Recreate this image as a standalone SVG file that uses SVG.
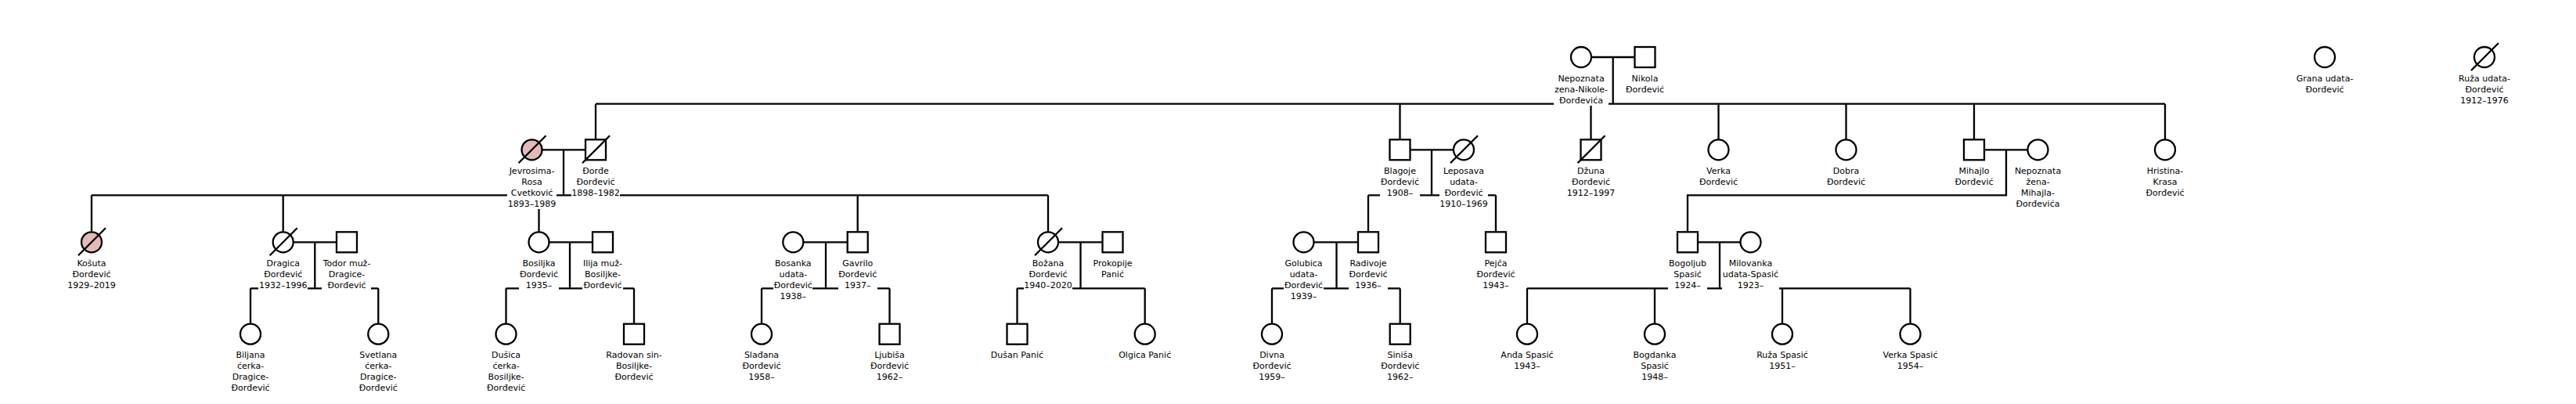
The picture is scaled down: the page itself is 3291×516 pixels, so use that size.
<svg xmlns="http://www.w3.org/2000/svg" xmlns:xlink="http://www.w3.org/1999/xlink" width="3291" height="516" viewBox="0 0 3291 516">
<style>
.ln{fill:none;stroke:#000;stroke-width:2.3}
.sh{fill:#fff;stroke:#000;stroke-width:2.3}
.pk{fill:#e6b9b9}
.dec{stroke:#000;stroke-width:2.3}
.lbl{font-family:"DejaVu Sans",sans-serif;font-size:11px;text-anchor:middle;fill:#000}
.bg{filter:url(#bg)}
</style>
<defs>
<filter id="bg" x="0" y="0" width="1" height="1"><feFlood flood-color="#fff"/></filter>
</defs>
<rect width="3291" height="516" fill="#fff"/>
<g id="connectors">
<path class="ln" d="M2033 73H2088.5M2060.7 73V132.7"/>
<path class="ln" d="M761 132.7H2766M761 132.7V178.3M1788.5 132.7V178.3M2032.5 132.7V178.3M2195.5 132.7V178.3M2358.5 132.7V178.3M2522 132.7V178.3M2766 132.7V178.3"/>
<path class="ln" d="M692.5 191.3H748M720 191.3V249.3M117 249.3H1339M117 249.3V296.3M361.7 249.3V296.3M688.5 249.3V296.3M1095.7 249.3V296.3M1339 249.3V296.3"/>
<path class="ln" d="M1801.5 191.3H1857M1829 191.3V249.3M1748 249.3H1911M1748 249.3V296.3M1911 249.3V296.3"/>
<path class="ln" d="M2535 191.3H2590.5M2563 191.3V249.3H2156V296.3"/>
<path class="ln" d="M374.7 309.3H430M402.3 309.3V368.3M320 368.3H483.3M320 368.3V413.7M483.3 368.3V413.7"/>
<path class="ln" d="M701.5 309.3H757M728 309.3V368.3M646.5 368.3H810M646.5 368.3V413.7M810 368.3V413.7"/>
<path class="ln" d="M1026.3 309.3H1082.7M1055 309.3V368.3M973 368.3H1136.5M973 368.3V413.7M1136.5 368.3V413.7"/>
<path class="ln" d="M1352 309.3H1408.5M1380.5 309.3V368.3M1299.5 368.3H1462.7M1299.5 368.3V413.7M1462.7 368.3V413.7"/>
<path class="ln" d="M1678.5 309.3H1735M1707.5 309.3V368.3M1625 368.3H1788.7M1625 368.3V413.7M1788.7 368.3V413.7"/>
<path class="ln" d="M2169 309.3H2223.5M2197 309.3V368.3M1951 368.3H2440.5M1951 368.3V413.7M2114 368.3V413.7M2277 368.3V413.7M2440.5 368.3V413.7"/>
</g>
<g id="n-nepoznata-nikole"><circle class="sh" cx="2020" cy="73" r="13"/><use class="bg" href="#t1" xlink:href="#t1"/><text id="t1" class="lbl" x="2020" y="103.5"><tspan x="2020">Nepoznata</tspan><tspan x="2020" dy="14">zena-Nikole-</tspan><tspan x="2020" dy="14">Đorđevića</tspan></text></g>
<g id="n-nikola"><rect class="sh" x="2088.5" y="60" width="26" height="26"/><use class="bg" href="#t2" xlink:href="#t2"/><text id="t2" class="lbl" x="2101.5" y="103.5"><tspan x="2101.5">Nikola</tspan><tspan x="2101.5" dy="14">Đorđević</tspan></text></g>
<g id="n-grana"><circle class="sh" cx="2970" cy="73" r="13"/><text class="lbl" x="2970" y="103.5"><tspan x="2970">Grana udata-</tspan><tspan x="2970" dy="14">Đorđević</tspan></text></g>
<g id="n-ruza-udata"><circle class="sh" cx="3174" cy="73" r="13"/><line class="dec" x1="3157" y1="90" x2="3192" y2="55"/><text class="lbl" x="3174" y="103.5"><tspan x="3174">Ruža udata-</tspan><tspan x="3174" dy="14">Đorđević</tspan><tspan x="3174" dy="14">1912–1976</tspan></text></g>

<g id="n-jevrosima"><circle class="sh pk" cx="679.5" cy="191.3" r="13"/><line class="dec" x1="662.5" y1="208.3" x2="697.5" y2="173.3"/><use class="bg" href="#t3" xlink:href="#t3"/><text id="t3" class="lbl" x="679.5" y="221.8"><tspan x="679.5">Jevrosima-</tspan><tspan x="679.5" dy="14">Rosa</tspan><tspan x="679.5" dy="14">Cvetković</tspan><tspan x="679.5" dy="14">1893–1989</tspan></text></g>
<g id="n-djordje"><rect class="sh" x="748" y="178.3" width="26" height="26"/><line class="dec" x1="744" y1="208.3" x2="779" y2="173.3"/><use class="bg" href="#t4" xlink:href="#t4"/><text id="t4" class="lbl" x="761" y="221.8"><tspan x="761">Đorđe</tspan><tspan x="761" dy="14">Đorđević</tspan><tspan x="761" dy="14">1898–1982</tspan></text></g>
<g id="n-blagoje"><rect class="sh" x="1775.5" y="178.3" width="26" height="26"/><use class="bg" href="#t5" xlink:href="#t5"/><text id="t5" class="lbl" x="1788.5" y="221.8"><tspan x="1788.5">Blagoje</tspan><tspan x="1788.5" dy="14">Đorđević</tspan><tspan x="1788.5" dy="14">1908–</tspan></text></g>
<g id="n-leposava"><circle class="sh" cx="1870" cy="191.3" r="13"/><line class="dec" x1="1853" y1="208.3" x2="1888" y2="173.3"/><use class="bg" href="#t6" xlink:href="#t6"/><text id="t6" class="lbl" x="1870" y="221.8"><tspan x="1870">Leposava</tspan><tspan x="1870" dy="14">udata-</tspan><tspan x="1870" dy="14">Đorđević</tspan><tspan x="1870" dy="14">1910–1969</tspan></text></g>
<g id="n-dzuna"><rect class="sh" x="2019.5" y="178.3" width="26" height="26"/><line class="dec" x1="2015.5" y1="208.3" x2="2050.5" y2="173.3"/><text class="lbl" x="2032.5" y="221.8"><tspan x="2032.5">Džuna</tspan><tspan x="2032.5" dy="14">Đorđević</tspan><tspan x="2032.5" dy="14">1912–1997</tspan></text></g>
<g id="n-verka"><circle class="sh" cx="2195.5" cy="191.3" r="13"/><text class="lbl" x="2195.5" y="221.8"><tspan x="2195.5">Verka</tspan><tspan x="2195.5" dy="14">Đorđević</tspan></text></g>
<g id="n-dobra"><circle class="sh" cx="2358.5" cy="191.3" r="13"/><text class="lbl" x="2358.5" y="221.8"><tspan x="2358.5">Dobra</tspan><tspan x="2358.5" dy="14">Đorđević</tspan></text></g>
<g id="n-mihajlo"><rect class="sh" x="2509" y="178.3" width="26" height="26"/><use class="bg" href="#t7" xlink:href="#t7"/><text id="t7" class="lbl" x="2522" y="221.8"><tspan x="2522">Mihajlo</tspan><tspan x="2522" dy="14">Đorđević</tspan></text></g>
<g id="n-nepoznata-mihajla"><circle class="sh" cx="2603.5" cy="191.3" r="13"/><use class="bg" href="#t8" xlink:href="#t8"/><text id="t8" class="lbl" x="2603.5" y="221.8"><tspan x="2603.5">Nepoznata</tspan><tspan x="2603.5" dy="14">žena-</tspan><tspan x="2603.5" dy="14">Mihajla-</tspan><tspan x="2603.5" dy="14">Đorđevića</tspan></text></g>
<g id="n-hristina"><circle class="sh" cx="2766" cy="191.3" r="13"/><text class="lbl" x="2766" y="221.8"><tspan x="2766">Hristina-</tspan><tspan x="2766" dy="14">Krasa</tspan><tspan x="2766" dy="14">Đorđević</tspan></text></g>

<g id="n-kosuta"><circle class="sh pk" cx="117" cy="309.3" r="13"/><line class="dec" x1="100" y1="326.3" x2="135" y2="291.3"/><text class="lbl" x="117" y="339.8"><tspan x="117">Košuta</tspan><tspan x="117" dy="14">Đorđević</tspan><tspan x="117" dy="14">1929–2019</tspan></text></g>
<g id="n-dragica"><circle class="sh" cx="361.7" cy="309.3" r="13"/><line class="dec" x1="344.7" y1="326.3" x2="379.7" y2="291.3"/><use class="bg" href="#t9" xlink:href="#t9"/><text id="t9" class="lbl" x="361.7" y="339.8"><tspan x="361.7">Dragica</tspan><tspan x="361.7" dy="14">Đorđević</tspan><tspan x="361.7" dy="14">1932–1996</tspan></text></g>
<g id="n-todor"><rect class="sh" x="430" y="296.3" width="26" height="26"/><use class="bg" href="#t10" xlink:href="#t10"/><text id="t10" class="lbl" x="443" y="339.8"><tspan x="443">Todor muž-</tspan><tspan x="443" dy="14">Dragice-</tspan><tspan x="443" dy="14">Đorđević</tspan></text></g>
<g id="n-bosiljka"><circle class="sh" cx="688.5" cy="309.3" r="13"/><use class="bg" href="#t11" xlink:href="#t11"/><text id="t11" class="lbl" x="688.5" y="339.8"><tspan x="688.5">Bosiljka</tspan><tspan x="688.5" dy="14">Đorđević</tspan><tspan x="688.5" dy="14">1935–</tspan></text></g>
<g id="n-ilija"><rect class="sh" x="757" y="296.3" width="26" height="26"/><use class="bg" href="#t12" xlink:href="#t12"/><text id="t12" class="lbl" x="770" y="339.8"><tspan x="770">Ilija muž-</tspan><tspan x="770" dy="14">Bosiljke-</tspan><tspan x="770" dy="14">Đorđević</tspan></text></g>
<g id="n-bosanka"><circle class="sh" cx="1013.3" cy="309.3" r="13"/><use class="bg" href="#t13" xlink:href="#t13"/><text id="t13" class="lbl" x="1013.3" y="339.8"><tspan x="1013.3">Bosanka</tspan><tspan x="1013.3" dy="14">udata-</tspan><tspan x="1013.3" dy="14">Đorđević</tspan><tspan x="1013.3" dy="14">1938–</tspan></text></g>
<g id="n-gavrilo"><rect class="sh" x="1082.7" y="296.3" width="26" height="26"/><use class="bg" href="#t14" xlink:href="#t14"/><text id="t14" class="lbl" x="1095.7" y="339.8"><tspan x="1095.7">Gavrilo</tspan><tspan x="1095.7" dy="14">Đorđević</tspan><tspan x="1095.7" dy="14">1937–</tspan></text></g>
<g id="n-bozana"><circle class="sh" cx="1339" cy="309.3" r="13"/><line class="dec" x1="1322" y1="326.3" x2="1357" y2="291.3"/><use class="bg" href="#t15" xlink:href="#t15"/><text id="t15" class="lbl" x="1339" y="339.8"><tspan x="1339">Božana</tspan><tspan x="1339" dy="14">Đorđević</tspan><tspan x="1339" dy="14">1940–2020</tspan></text></g>
<g id="n-prokopije"><rect class="sh" x="1408.5" y="296.3" width="26" height="26"/><text class="lbl" x="1421.5" y="339.8"><tspan x="1421.5">Prokopije</tspan><tspan x="1421.5" dy="14">Panić</tspan></text></g>
<g id="n-golubica"><circle class="sh" cx="1665.5" cy="309.3" r="13"/><use class="bg" href="#t16" xlink:href="#t16"/><text id="t16" class="lbl" x="1665.5" y="339.8"><tspan x="1665.5">Golubica</tspan><tspan x="1665.5" dy="14">udata-</tspan><tspan x="1665.5" dy="14">Đorđević</tspan><tspan x="1665.5" dy="14">1939–</tspan></text></g>
<g id="n-radivoje"><rect class="sh" x="1735" y="296.3" width="26" height="26"/><use class="bg" href="#t17" xlink:href="#t17"/><text id="t17" class="lbl" x="1748" y="339.8"><tspan x="1748">Radivoje</tspan><tspan x="1748" dy="14">Đorđević</tspan><tspan x="1748" dy="14">1936–</tspan></text></g>
<g id="n-pejca"><rect class="sh" x="1898" y="296.3" width="26" height="26"/><text class="lbl" x="1911" y="339.8"><tspan x="1911">Pejča</tspan><tspan x="1911" dy="14">Đorđević</tspan><tspan x="1911" dy="14">1943–</tspan></text></g>
<g id="n-bogoljub"><rect class="sh" x="2143" y="296.3" width="26" height="26"/><use class="bg" href="#t18" xlink:href="#t18"/><text id="t18" class="lbl" x="2156" y="339.8"><tspan x="2156">Bogoljub</tspan><tspan x="2156" dy="14">Spasić</tspan><tspan x="2156" dy="14">1924–</tspan></text></g>
<g id="n-milovanka"><circle class="sh" cx="2236.5" cy="309.3" r="13"/><use class="bg" href="#t19" xlink:href="#t19"/><text id="t19" class="lbl" x="2236.5" y="339.8"><tspan x="2236.5">Milovanka</tspan><tspan x="2236.5" dy="14">udata-Spasić</tspan><tspan x="2236.5" dy="14">1923–</tspan></text></g>

<g id="n-biljana"><circle class="sh" cx="320" cy="426.7" r="13"/><text class="lbl" x="320" y="457.2"><tspan x="320">Biljana</tspan><tspan x="320" dy="14">ćerka-</tspan><tspan x="320" dy="14">Dragice-</tspan><tspan x="320" dy="14">Đorđević</tspan></text></g>
<g id="n-svetlana"><circle class="sh" cx="483.3" cy="426.7" r="13"/><text class="lbl" x="483.3" y="457.2"><tspan x="483.3">Svetlana</tspan><tspan x="483.3" dy="14">ćerka-</tspan><tspan x="483.3" dy="14">Dragice-</tspan><tspan x="483.3" dy="14">Đorđević</tspan></text></g>
<g id="n-dusica"><circle class="sh" cx="646.5" cy="426.7" r="13"/><text class="lbl" x="646.5" y="457.2"><tspan x="646.5">Dušica</tspan><tspan x="646.5" dy="14">ćerka-</tspan><tspan x="646.5" dy="14">Bosiljke-</tspan><tspan x="646.5" dy="14">Đorđević</tspan></text></g>
<g id="n-radovan"><rect class="sh" x="797" y="413.7" width="26" height="26"/><text class="lbl" x="810" y="457.2"><tspan x="810">Radovan sin-</tspan><tspan x="810" dy="14">Bosiljke-</tspan><tspan x="810" dy="14">Đorđević</tspan></text></g>
<g id="n-sladjana"><circle class="sh" cx="973" cy="426.7" r="13"/><text class="lbl" x="973" y="457.2"><tspan x="973">Slađana</tspan><tspan x="973" dy="14">Đorđević</tspan><tspan x="973" dy="14">1958–</tspan></text></g>
<g id="n-ljubisa"><rect class="sh" x="1123.5" y="413.7" width="26" height="26"/><text class="lbl" x="1136.5" y="457.2"><tspan x="1136.5">Ljubiša</tspan><tspan x="1136.5" dy="14">Đorđević</tspan><tspan x="1136.5" dy="14">1962–</tspan></text></g>
<g id="n-dusan"><rect class="sh" x="1286.5" y="413.7" width="26" height="26"/><text class="lbl" x="1299.5" y="457.2">Dušan Panić</text></g>
<g id="n-olgica"><circle class="sh" cx="1462.7" cy="426.7" r="13"/><text class="lbl" x="1462.7" y="457.2">Olgica Panić</text></g>
<g id="n-divna"><circle class="sh" cx="1625" cy="426.7" r="13"/><text class="lbl" x="1625" y="457.2"><tspan x="1625">Divna</tspan><tspan x="1625" dy="14">Đorđević</tspan><tspan x="1625" dy="14">1959–</tspan></text></g>
<g id="n-sinisa"><rect class="sh" x="1775.7" y="413.7" width="26" height="26"/><text class="lbl" x="1788.7" y="457.2"><tspan x="1788.7">Siniša</tspan><tspan x="1788.7" dy="14">Đorđević</tspan><tspan x="1788.7" dy="14">1962–</tspan></text></g>
<g id="n-andja"><circle class="sh" cx="1951" cy="426.7" r="13"/><text class="lbl" x="1951" y="457.2"><tspan x="1951">Anđa Spasić</tspan><tspan x="1951" dy="14">1943–</tspan></text></g>
<g id="n-bogdanka"><circle class="sh" cx="2114" cy="426.7" r="13"/><text class="lbl" x="2114" y="457.2"><tspan x="2114">Bogdanka</tspan><tspan x="2114" dy="14">Spasić</tspan><tspan x="2114" dy="14">1948–</tspan></text></g>
<g id="n-ruza-spasic"><circle class="sh" cx="2277" cy="426.7" r="13"/><text class="lbl" x="2277" y="457.2"><tspan x="2277">Ruža Spasić</tspan><tspan x="2277" dy="14">1951–</tspan></text></g>
<g id="n-verka-spasic"><circle class="sh" cx="2440.5" cy="426.7" r="13"/><text class="lbl" x="2440.5" y="457.2"><tspan x="2440.5">Verka Spasić</tspan><tspan x="2440.5" dy="14">1954–</tspan></text></g>
</svg>
